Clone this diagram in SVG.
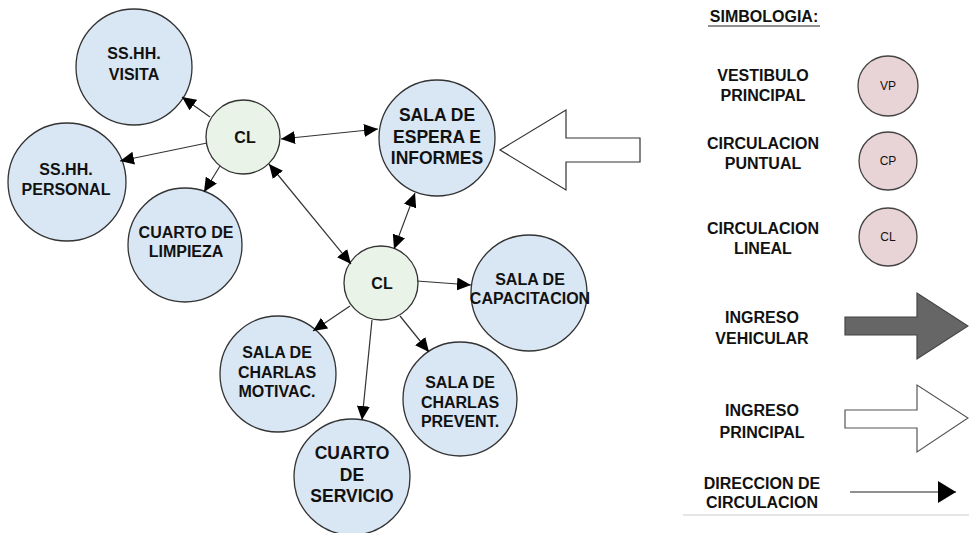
<svg xmlns="http://www.w3.org/2000/svg" width="969" height="533" viewBox="0 0 969 533">
<style>
.room{fill:#d9e6f4;stroke:#333;stroke-width:1.3}
.cl{fill:#e9f3e7;stroke:#333;stroke-width:1.3}
.sym{fill:#e8d4d6;stroke:#444;stroke-width:1.3}
text{font-family:"Liberation Sans",Arial,sans-serif;font-weight:bold;fill:#111;text-anchor:middle}
.t16{font-size:16px}
.t17{font-size:17.5px}
.small{font-size:12px;font-weight:normal}
.con line{stroke:#333;stroke-width:1.2;fill:none}
</style>
<defs>
<marker id="ah" markerUnits="userSpaceOnUse" markerWidth="15" markerHeight="13" refX="14" refY="6.5" orient="auto-start-reverse" viewBox="0 0 15 13">
<path d="M0,0 L14,6.5 L0,13 z" fill="#000"/>
</marker>
<marker id="ahbig" markerUnits="userSpaceOnUse" markerWidth="19" markerHeight="22" refX="18" refY="11" orient="auto" viewBox="0 0 19 22">
<path d="M0,0 L18,11 L0,22 z" fill="#000"/>
</marker>
</defs>
<rect width="969" height="533" fill="#fff"/>

<g id="visita"><circle class="room" cx="134" cy="67" r="58"/><text class="t16" x="134" y="59">SS.HH.</text><text class="t16" x="134" y="80">VISITA</text></g>
<g id="personal"><circle class="room" cx="67" cy="182" r="59"/><text class="t16" x="66" y="175">SS.HH.</text><text class="t16" x="66" y="195">PERSONAL</text></g>
<g id="cl1"><circle class="cl" cx="243" cy="137" r="37"/><text class="t16" x="245" y="143">CL</text></g>
<g id="limpieza"><circle class="room" cx="185" cy="245" r="57"/><text class="t16" x="186" y="238">CUARTO DE</text><text class="t16" x="186" y="257">LIMPIEZA</text></g>
<g id="espera"><circle class="room" cx="437" cy="138" r="58"/><text class="t17" x="437" y="121">SALA DE</text><text class="t17" x="437" y="143">ESPERA E</text><text class="t17" x="437" y="164">INFORMES</text></g>
<g id="cl2"><circle class="cl" cx="381" cy="283" r="37"/><text class="t16" x="382" y="289">CL</text></g>
<g id="capacitacion"><circle class="room" cx="529" cy="293" r="58"/><text class="t16" x="530" y="285">SALA DE</text><text class="t16" x="530" y="304">CAPACITACION</text></g>
<g id="motivac"><circle class="room" cx="278" cy="374" r="58"/><text class="t16" x="277" y="358">SALA DE</text><text class="t16" x="277" y="378">CHARLAS</text><text class="t16" x="277" y="397">MOTIVAC.</text></g>
<g id="servicio"><circle class="room" cx="352" cy="477" r="58"/><text class="t17" x="352" y="459">CUARTO</text><text class="t17" x="352" y="481">DE</text><text class="t17" x="352" y="502">SERVICIO</text></g>
<g id="prevent"><circle class="room" cx="460" cy="399" r="57"/><text class="t16" x="460" y="388">SALA DE</text><text class="t16" x="460" y="408">CHARLAS</text><text class="t16" x="460" y="427">PREVENT.</text></g>

<g id="ingreso-principal-arrow"><polygon points="640,138 566,138 566,110 500,150 566,190 566,162 640,162" fill="#fff" stroke="#333" stroke-width="1.2"/></g>

<g id="connectors" class="con">
<line x1="210" y1="117" x2="182" y2="97" marker-end="url(#ah)"/>
<line x1="207" y1="143" x2="120" y2="161" marker-end="url(#ah)"/>
<line x1="220" y1="166" x2="204" y2="192" marker-end="url(#ah)"/>
<line x1="281" y1="139" x2="378" y2="129" marker-start="url(#ah)" marker-end="url(#ah)"/>
<line x1="269" y1="164" x2="351" y2="264" marker-start="url(#ah)" marker-end="url(#ah)"/>
<line x1="415" y1="193" x2="394" y2="249" marker-start="url(#ah)" marker-end="url(#ah)"/>
<line x1="417" y1="281" x2="471" y2="285" marker-end="url(#ah)"/>
<line x1="350" y1="306" x2="313" y2="331" marker-end="url(#ah)"/>
<line x1="372" y1="320" x2="362" y2="420" marker-end="url(#ah)"/>
<line x1="400" y1="316" x2="429" y2="352" marker-end="url(#ah)"/>
</g>

<g id="legend">
<text class="t16" x="764" y="22">SIMBOLOGIA:</text>
<line x1="708" y1="26" x2="820" y2="26" stroke="#222" stroke-width="1.2"/>
<text class="t16" x="763" y="81">VESTIBULO</text><text class="t16" x="763" y="101">PRINCIPAL</text>
<circle class="sym" cx="888" cy="86" r="30"/><text class="small" x="888" y="90">VP</text>
<text class="t16" x="763" y="149">CIRCULACION</text><text class="t16" x="763" y="169">PUNTUAL</text>
<circle class="sym" cx="888" cy="161" r="29"/><text class="small" x="888" y="165">CP</text>
<text class="t16" x="763" y="234">CIRCULACION</text><text class="t16" x="763" y="254">LINEAL</text>
<circle class="sym" cx="888" cy="237" r="29"/><text class="small" x="888" y="241">CL</text>
<text class="t16" x="762" y="323">INGRESO</text><text class="t16" x="762" y="344">VEHICULAR</text>
<polygon points="845,317 917,317 917,293 968,326 917,359 917,335 845,335" fill="#666" stroke="#444" stroke-width="1.2"/>
<text class="t16" x="762" y="416">INGRESO</text><text class="t16" x="762" y="438">PRINCIPAL</text>
<polygon points="845,410 917,410 917,385 968,418 917,452 917,428 845,428" fill="#fff" stroke="#555" stroke-width="1.2"/>
<text class="t16" x="762" y="489">DIRECCION DE</text><text class="t16" x="762" y="508">CIRCULACION</text>
<line x1="850" y1="492" x2="956" y2="492" stroke="#222" stroke-width="1.2" marker-end="url(#ahbig)"/>
<line x1="683" y1="515" x2="969" y2="515" stroke="#ccc" stroke-width="1"/>
</g>
</svg>
